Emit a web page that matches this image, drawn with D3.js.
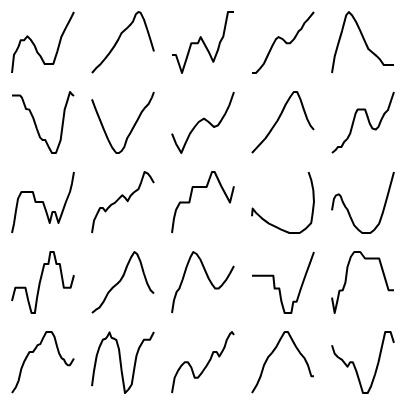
<!DOCTYPE html>
<html>
<head>
<meta charset="utf-8">
<script src="https://cdn.jsdelivr.net/npm/d3@7"></script>
<style>
  html, body { margin: 0; padding: 0; background: #fff; }
  svg { display: block; }
</style>
</head>
<body>
<svg id="chart" width="407" height="405"></svg>
<script>
// Each series: [t, value] pairs
const s11 = [[0,0],[6,54],[14,67],[20,79],[26,97],[36,97],[46,109],[56,99],[68,81],[76,61],[86,49],[98,27],[124,27],[136,64],[148,107],[160,131],[174,157],[186,181]];
const s12 = [[2,0],[14,14],[28,27],[40,41],[54,59],[68,79],[80,99],[90,119],[104,131],[116,143],[124,153],[132,174],[140,181],[146,179],[156,159],[166,129],[176,97],[186,64]];
const s13 = [[2,54],[14,54],[32,1],[46,44],[60,89],[80,89],[88,107],[98,89],[112,64],[126,34],[140,69],[146,91],[156,109],[170,181],[188,181]];
const s14 = [[2,1],[14,1],[26,14],[38,29],[50,54],[62,79],[74,101],[82,107],[94,101],[106,89],[116,89],[128,101],[136,114],[142,124],[150,131],[160,149],[170,159],[178,169],[188,181]];
const s15 = [[4,1],[12,49],[22,84],[34,124],[46,169],[54,179],[64,169],[76,149],[88,124],[100,97],[112,71],[124,61],[136,51],[146,41],[158,24],[188,24]];

const s21 = [[0,171],[24,171],[30,164],[42,131],[52,129],[64,104],[74,74],[84,47],[92,39],[100,39],[110,19],[120,1],[132,1],[146,39],[158,129],[166,154],[174,181],[180,174],[186,169]];
const s22 = [[2,161],[14,129],[26,99],[38,69],[50,41],[62,17],[74,1],[82,1],[90,7],[98,19],[106,44],[116,61],[126,79],[138,101],[150,124],[160,137],[170,147],[180,167],[186,183]];
const s23 = [[2,59],[14,29],[30,1],[42,29],[56,59],[70,79],[82,94],[98,104],[112,94],[128,79],[140,84],[150,99],[162,119],[174,144],[188,184]];
const s24 = [[4,1],[16,14],[30,29],[44,44],[56,61],[68,79],[80,97],[92,119],[104,144],[118,167],[128,181],[138,181],[148,159],[158,129],[168,101],[178,81],[188,69]];
const s25 = [[4,1],[14,9],[22,19],[32,19],[40,34],[50,44],[58,59],[66,89],[74,119],[80,131],[102,131],[108,114],[116,89],[124,74],[134,71],[142,79],[150,99],[160,119],[170,129],[180,159],[188,183]];

const s31 = [[2,1],[8,29],[14,69],[20,104],[30,124],[64,124],[72,94],[94,94],[104,64],[114,31],[122,64],[130,64],[140,31],[150,59],[162,94],[174,124],[180,149],[186,184]];
const s32 = [[2,1],[8,37],[16,54],[26,74],[34,74],[42,64],[50,74],[60,84],[70,89],[80,99],[92,111],[100,104],[108,94],[116,109],[126,119],[140,129],[148,149],[158,179],[168,174],[176,164],[186,147]];
const s33 = [[2,1],[8,44],[14,69],[26,91],[54,91],[64,137],[106,137],[122,181],[130,181],[150,139],[176,91],[188,139]];
const s34 = [[4,51],[6,74],[16,61],[34,44],[54,29],[74,19],[90,11],[114,1],[144,1],[162,14],[178,31],[182,59],[186,94],[184,129],[178,159],[170,183]];
const s35 = [[4,69],[10,104],[16,114],[24,117],[30,111],[36,94],[44,79],[50,71],[58,51],[70,24],[82,11],[94,1],[118,1],[130,11],[144,29],[154,59],[168,109],[188,184]];

const s41 = [[2,37],[12,76],[42,76],[50,39],[60,1],[70,1],[76,44],[84,89],[98,147],[110,147],[116,183],[126,183],[134,147],[144,147],[156,76],[176,76],[186,114]];
const s42 = [[2,1],[14,11],[24,17],[36,34],[50,61],[64,77],[78,89],[86,97],[96,114],[106,141],[118,167],[128,183],[136,177],[146,154],[156,119],[166,89],[176,69],[186,59]];
const s43 = [[2,1],[8,39],[16,64],[24,74],[34,101],[46,139],[58,169],[66,183],[76,177],[88,159],[100,131],[112,104],[124,84],[132,74],[142,74],[152,84],[164,99],[176,119],[188,141]];
const s44 = [[2,114],[66,114],[70,76],[84,76],[90,39],[100,4],[120,4],[126,37],[136,37],[148,74],[164,119],[176,151],[188,184]];
const s45 = [[4,49],[12,4],[20,39],[26,69],[36,71],[44,94],[50,139],[60,169],[70,183],[88,183],[102,164],[144,164],[156,124],[172,71],[188,71]];

const s51 = [[2,1],[14,19],[22,39],[30,74],[38,94],[46,109],[54,123],[64,123],[72,134],[78,144],[86,147],[94,164],[104,183],[120,183],[128,169],[136,139],[142,119],[150,104],[156,101],[162,89],[168,84],[174,84],[186,104]];
const s52 = [[2,24],[8,69],[16,114],[24,139],[34,161],[42,164],[48,171],[54,183],[60,167],[68,164],[74,161],[82,134],[90,69],[100,4],[110,14],[120,29],[128,79],[134,114],[142,137],[156,161],[174,161],[186,184]];
const s53 = [[2,4],[10,49],[20,69],[30,84],[40,94],[50,94],[60,79],[70,49],[80,49],[92,64],[106,84],[118,104],[126,124],[136,124],[144,111],[152,124],[160,139],[166,159],[176,177],[182,183],[188,174]];
const s54 = [[2,1],[16,24],[28,51],[38,84],[50,107],[62,121],[74,137],[86,159],[100,183],[110,183],[124,157],[134,139],[146,121],[160,104],[170,84],[180,51],[188,51]];
const s55 = [[4,144],[12,119],[22,109],[34,101],[44,89],[50,81],[58,94],[66,94],[76,69],[86,37],[96,4],[110,4],[120,24],[132,59],[142,94],[152,139],[162,183],[178,183],[188,151]];

const allSeries = [
  s11, s12, s13, s14, s15,
  s21, s22, s23, s24, s25,
  s31, s32, s33, s34, s35,
  s41, s42, s43, s44, s45,
  s51, s52, s53, s54, s55
];

const cols = 5, cell = 80;
const margin = {top: 12, left: 12};
const w = 62, h = 61;

const svg = d3.select("#chart");
svg.append("rect").attr("width", 407).attr("height", 405).attr("fill", "#fff");

allSeries.forEach((data, i) => {
  const c = i % cols, r = Math.floor(i / cols);
  const g = svg.append("g")
    .attr("transform", `translate(${c * cell + margin.left},${r * cell + margin.top})`);
  const x = d3.scaleLinear().domain(d3.extent(data, d => d[0])).range([0, w]);
  const y = d3.scaleLinear().domain(d3.extent(data, d => d[1])).range([h, 0]);
  const line = d3.line().x(d => x(d[0])).y(d => y(d[1]));
  g.append("path")
    .datum(data)
    .attr("d", line)
    .attr("fill", "none")
    .attr("stroke", "#000")
    .attr("stroke-width", 2)
    .attr("stroke-linejoin", "round")
    .attr("stroke-linecap", "butt");
});
</script>
</body>
</html>
